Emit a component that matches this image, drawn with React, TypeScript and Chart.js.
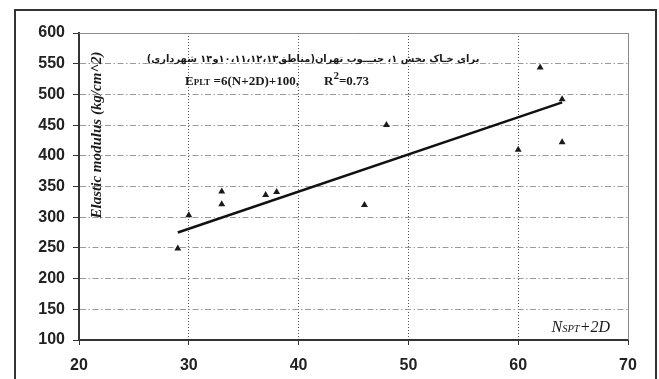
import React, { useEffect, useRef } from "react";
import { Chart, registerables } from "chart.js";

Chart.register(...registerables);

// Measured points (N_SPT + 2D, Elastic modulus)
const xValues = [29, 30, 33, 33, 37, 38, 46, 48, 60, 62, 64, 64];
const yValues = [249, 303, 342, 321, 336, 341, 320, 450, 410, 544, 492, 422];

// Fitted line endpoints
const fitX = [29, 64];
const fitY = [275, 487];

const xTicks = [20, 30, 40, 50, 60, 70];
const yTicks = [100, 150, 200, 250, 300, 350, 400, 450, 500, 550, 600];

const titleFa = "برای خـاک بخش ۱، جنـــوب تهران(مناطق۱۰،۱۱،۱۲،۱۳و۱۴ شهرداری)";
const yTitle = "Elastic modulus (kg/cm^2)";

const annotPlugin = {
  id: "annot",
  beforeDatasetsDraw(chart: any) {
    const { ctx, chartArea: a } = chart;
    ctx.save();
    ctx.strokeStyle = "#8a8a8a";
    ctx.lineWidth = 1;
    ctx.beginPath();
    ctx.moveTo(a.left, Math.round(a.top) + 0.5);
    ctx.lineTo(a.right, Math.round(a.top) + 0.5);
    ctx.moveTo(Math.round(a.right) + 0.5, a.top);
    ctx.lineTo(Math.round(a.right) + 0.5, a.bottom);
    ctx.stroke();
    ctx.restore();
  },
  afterDraw(chart: any) {
    const { ctx, chartArea: a } = chart;
    ctx.save();
    ctx.fillStyle = "#1a1a1a";

    // Persian title
    const targetW = 333;
    let size = 12;
    ctx.font = `bold ${size}px 'DejaVu Sans'`;
    (ctx as any).direction = "rtl";
    const w = ctx.measureText(titleFa).width;
    size = Math.max(8, Math.min(16, (size * targetW) / w));
    ctx.font = `bold ${size}px 'DejaVu Sans'`;
    ctx.textAlign = "center";
    ctx.textBaseline = "middle";
    ctx.fillText(titleFa, a.left + 234, a.top + 26);
    (ctx as any).direction = "ltr";

    // Equation line
    ctx.textAlign = "left";
    ctx.textBaseline = "alphabetic";
    const serif = "'Liberation Serif', 'Times New Roman', serif";
    let x = a.left + 106;
    const base = a.top + 52;
    const seg = (t: string, s: number, dy = 0) => {
      ctx.font = `bold ${s}px ${serif}`;
      ctx.fillText(t, x, base - dy);
      x += ctx.measureText(t).width;
    };
    seg("E", 13);
    seg("PLT", 9);
    seg(" =6(N+2D)+100,", 13);
    x = a.left + 245;
    seg("R", 13);
    seg("2", 11, 6);
    seg("=0.73", 13);

    // X axis title inside plot (N_SPT+2D)
    const parts: [string, number][] = [["N", 16], ["SPT", 10.5], ["+2D", 16]];
    let total = 0;
    for (const [t, s] of parts) {
      ctx.font = `italic ${s}px ${serif}`;
      total += ctx.measureText(t).width;
    }
    x = a.right - 18 - total;
    const xb = a.bottom - 8;
    for (const [t, s] of parts) {
      ctx.font = `italic ${s}px ${serif}`;
      ctx.fillText(t, x, xb);
      x += ctx.measureText(t).width;
    }

    // Y axis title inside plot
    ctx.translate(a.left + 18, a.top + 102);
    ctx.rotate(-Math.PI / 2);
    ctx.font = `bold italic 15px ${serif}`;
    ctx.textAlign = "center";
    ctx.textBaseline = "middle";
    ctx.fillText(yTitle, 0, 0);
    ctx.restore();
  },
};

export default function App() {
  const ref = useRef<HTMLCanvasElement | null>(null);

  useEffect(() => {
    if (!ref.current) return;
    const tickFont = { family: "'Liberation Sans', Arial, sans-serif", size: 16, weight: "bold" as const };
    const chart = new Chart(ref.current, {
      type: "scatter",
      data: {
        datasets: [
          {
            label: "data",
            data: xValues.map((v, i) => ({ x: v, y: yValues[i] })),
            pointStyle: "triangle",
            pointRadius: 4,
            backgroundColor: "#1a1a1a",
            borderColor: "#1a1a1a",
            borderWidth: 0,
            showLine: false,
          },
          {
            label: "fit",
            data: fitX.map((v, i) => ({ x: v, y: fitY[i] })),
            showLine: true,
            pointRadius: 0,
            borderColor: "#111",
            borderWidth: 2.5,
            fill: false,
          },
        ],
      },
      options: {
        animation: false,
        responsive: false,
        devicePixelRatio: 1,
        layout: { padding: { top: 33, right: 31, left: 0, bottom: 0 } },
        plugins: { legend: { display: false }, tooltip: { enabled: false }, title: { display: false } },
        scales: {
          x: {
            type: "linear",
            min: 20,
            max: 70,
            afterBuildTicks: (s: any) => {
              s.ticks = xTicks.map((v) => ({ value: v }));
            },
            afterFit: (s: any) => {
              s.height = 39;
            },
            ticks: { font: tickFont, color: "#222", padding: 11, maxRotation: 0 },
            grid: {
              color: (c: any) => (c.tick && (c.tick.value === 20 || c.tick.value === 70) ? "rgba(0,0,0,0)" : "#555"),
              lineWidth: 1,
              tickColor: "#333",
              tickLength: 5,
              tickWidth: 1,
            },
            border: { display: true, color: "#333", width: 2, dash: [1, 2] },
          },
          y: {
            type: "linear",
            min: 100,
            max: 600,
            afterBuildTicks: (s: any) => {
              s.ticks = yTicks.map((v) => ({ value: v }));
            },
            afterFit: (s: any) => {
              s.width = 79;
            },
            ticks: { font: tickFont, color: "#222", padding: 8 },
            grid: {
              color: (c: any) => (c.tick && (c.tick.value === 100 || c.tick.value === 600) ? "rgba(0,0,0,0)" : "#9a9a9a"),
              lineWidth: 1,
              tickColor: "#333",
              tickLength: 6,
              tickWidth: 1,
            },
            border: { display: true, color: "#333", width: 2, dash: [6, 2.5, 1.5, 2.5] },
          },
        },
      },
      plugins: [annotPlugin],
    } as any);
    return () => chart.destroy();
  }, []);

  return (
    <div style={{ position: "fixed", left: 0, top: 0, width: 659, height: 379, overflow: "hidden", background: "#fff" }}>
      <div
        style={{
          position: "absolute",
          left: 14,
          top: 9,
          width: 643,
          height: 400,
          border: "2px solid #333",
          boxSizing: "border-box",
        }}
      />
      <canvas ref={ref} width={659} height={379} style={{ position: "absolute", left: 0, top: 0, width: 659, height: 379 }} />
    </div>
  );
}
